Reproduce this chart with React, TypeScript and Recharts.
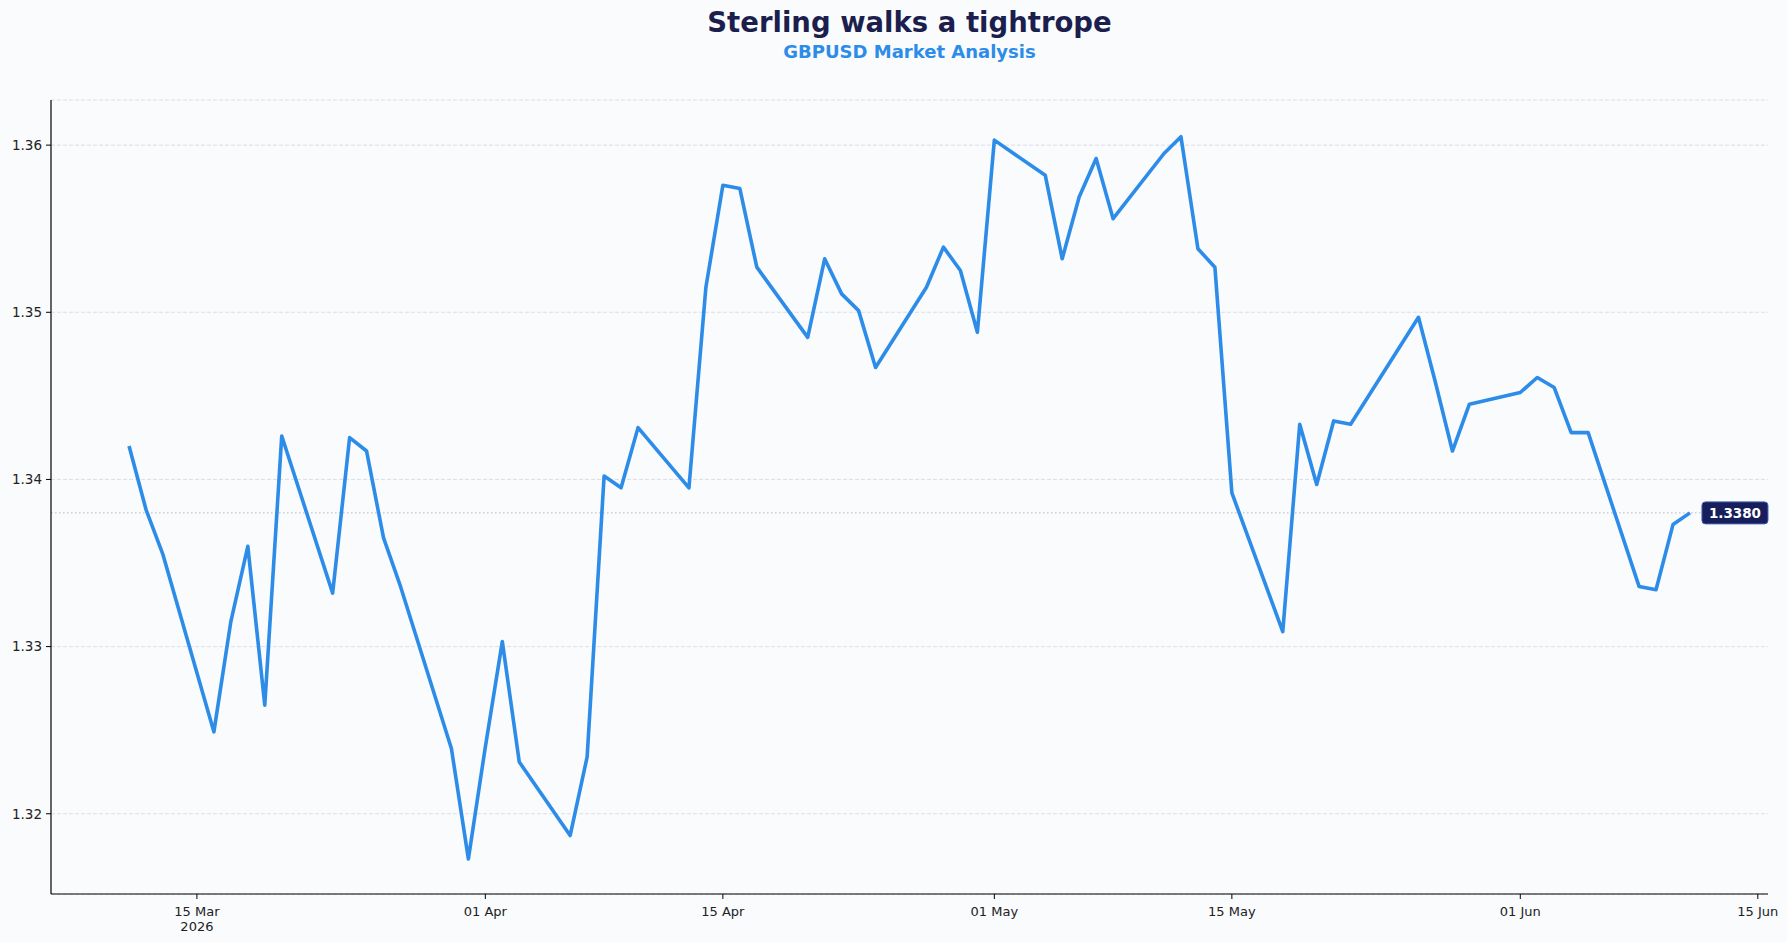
import React from 'react';
import {
  LineChart, Line, XAxis, YAxis, CartesianGrid, ReferenceLine, ReferenceDot
} from 'recharts';

// trading days (weekdays) and GBPUSD closes
const dates = [
  '2026-03-11', '2026-03-12', '2026-03-13',
  '2026-03-16', '2026-03-17', '2026-03-18', '2026-03-19', '2026-03-20',
  '2026-03-23', '2026-03-24', '2026-03-25', '2026-03-26', '2026-03-27',
  '2026-03-30', '2026-03-31', '2026-04-01', '2026-04-02', '2026-04-03',
  '2026-04-06', '2026-04-07', '2026-04-08', '2026-04-09', '2026-04-10',
  '2026-04-13', '2026-04-14', '2026-04-15', '2026-04-16', '2026-04-17',
  '2026-04-20', '2026-04-21', '2026-04-22', '2026-04-23', '2026-04-24',
  '2026-04-27', '2026-04-28', '2026-04-29', '2026-04-30', '2026-05-01',
  '2026-05-04', '2026-05-05', '2026-05-06', '2026-05-07', '2026-05-08',
  '2026-05-11', '2026-05-12', '2026-05-13', '2026-05-14', '2026-05-15',
  '2026-05-18', '2026-05-19', '2026-05-20', '2026-05-21', '2026-05-22',
  '2026-05-25', '2026-05-26', '2026-05-27', '2026-05-28', '2026-05-29',
  '2026-06-01', '2026-06-02', '2026-06-03', '2026-06-04', '2026-06-05',
  '2026-06-08', '2026-06-09', '2026-06-10', '2026-06-11',
];

const closes = [
  1.3420, 1.3382, 1.3355,
  1.3249, 1.3315, 1.3360, 1.3265, 1.3426,
  1.3332, 1.3425, 1.3417, 1.3365, 1.3336,
  1.3239, 1.3173, 1.3240, 1.3303, 1.3231,
  1.3187, 1.3234, 1.3402, 1.3395, 1.3431,
  1.3395, 1.3515, 1.3576, 1.3574, 1.3527,
  1.3485, 1.3532, 1.3511, 1.3501, 1.3467,
  1.3515, 1.3539, 1.3525, 1.3488, 1.3603,
  1.3582, 1.3532, 1.3569, 1.3592, 1.3556,
  1.3595, 1.3605, 1.3538, 1.3527, 1.3392,
  1.3309, 1.3433, 1.3397, 1.3435, 1.3433,
  1.3481, 1.3497, 1.3458, 1.3417, 1.3445,
  1.3452, 1.3461, 1.3455, 1.3428, 1.3428,
  1.3336, 1.3334, 1.3373, 1.3380,
];

const xTickDates = ['2026-03-15', '2026-04-01', '2026-04-15', '2026-05-01', '2026-05-15', '2026-06-01', '2026-06-15'];
const xTickLabels = ['15 Mar', '01 Apr', '15 Apr', '01 May', '15 May', '01 Jun', '15 Jun'];
const yTicks = [1.32, 1.33, 1.34, 1.35, 1.36];

const lastPrice = 1.338;

const toDay = (s: string) => {
  const [y, m, d] = s.split('-').map(Number);
  return Date.UTC(y, m - 1, d) / 86400000;
};

const FONT = '"DejaVu Sans", Verdana, sans-serif';
const BG = '#f9fbfd';
const LINE = '#2d8ce8';
const NAVY = '#1c1f4e';

const data = dates.map((d, i) => ({ t: toDay(d), close: closes[i] }));
const xTicks = xTickDates.map(toDay);
const first = data[0].t;
const last = data[data.length - 1].t;
const pad = (last - first) * 0.05;

const DateTick = (props: any) => {
  const { x, y, payload } = props;
  const idx = xTicks.indexOf(payload.value);
  return (
    <g>
      <text x={x} y={y} dy="0.71em" textAnchor="middle" fontSize={13} fontFamily={FONT} fill="#222">
        {xTickLabels[idx]}
      </text>
      {idx === 0 && (
        <text x={x} y={y + 15} dy="0.71em" textAnchor="middle" fontSize={13} fontFamily={FONT} fill="#222">
          2026
        </text>
      )}
    </g>
  );
};

const PriceTag = (props: any) => {
  const { cx, cy } = props;
  if (cx == null || cy == null) return null;
  const w = 66;
  const h = 22;
  const left = cx + 12;
  return (
    <g>
      <rect x={left} y={cy - h / 2} width={w} height={h} rx={3.5} fill="#181e5a" stroke="#3c5fba" strokeWidth={1} />
      <text x={left + w / 2} y={cy} dy="0.36em" textAnchor="middle" fontSize={13.5} fontWeight="bold" fontFamily={FONT} fill="#fff">
        {lastPrice.toFixed(4)}
      </text>
    </g>
  );
};

const titleStyle: React.CSSProperties = {
  position: 'absolute', left: 909.5, transform: 'translateX(-50%)', whiteSpace: 'nowrap', fontWeight: 'bold',
};

const App: React.FC = () => {
  return (
    <div style={{ position: 'fixed', left: 0, top: 0, width: 1787, height: 942, background: BG, fontFamily: FONT, overflow: 'hidden' }}>
      <div style={{ ...titleStyle, top: 8, fontSize: 27.5, lineHeight: '28px', color: NAVY }}>
        Sterling walks a tightrope
      </div>
      <div style={{ ...titleStyle, top: 43, fontSize: 18, lineHeight: '18px', color: LINE }}>
        GBPUSD Market Analysis
      </div>
      <div style={{ position: 'absolute', left: 0, top: 0 }}>
        <LineChart width={1787} height={942} data={data} margin={{ top: 100, right: 19, bottom: 0, left: 0 }}>
          <CartesianGrid vertical={false} stroke="#d3d8df" strokeDasharray="4 2" strokeWidth={0.8} />
          <XAxis
            dataKey="t"
            type="number"
            domain={[first - pad, last + pad]}
            ticks={xTicks}
            tick={<DateTick />}
            tickSize={5}
            tickMargin={8}
            height={48}
            axisLine={{ stroke: '#000', strokeWidth: 1.2 }}
            tickLine={{ stroke: '#000' }}
            allowDataOverflow
          />
          <YAxis
            type="number"
            domain={[1.3152, 1.3627]}
            ticks={yTicks}
            tickFormatter={(v: number) => v.toFixed(2)}
            width={51}
            tickSize={5}
            tickMargin={4}
            tick={{ fontSize: 13.5, fontFamily: FONT, fill: '#222' }}
            axisLine={{ stroke: '#000', strokeWidth: 1.2 }}
            tickLine={{ stroke: '#000' }}
            allowDataOverflow
          />
          <ReferenceLine y={lastPrice} stroke="#b5bac2" strokeDasharray="1.5 2.5" strokeWidth={1} />
          <Line
            type="linear"
            dataKey="close"
            stroke={LINE}
            strokeWidth={3.6}
            strokeLinejoin="round"
            dot={false}
            isAnimationActive={false}
          />
          <ReferenceDot x={last} y={lastPrice} r={0} shape={<PriceTag />} />
        </LineChart>
      </div>
    </div>
  );
};

export default App;
